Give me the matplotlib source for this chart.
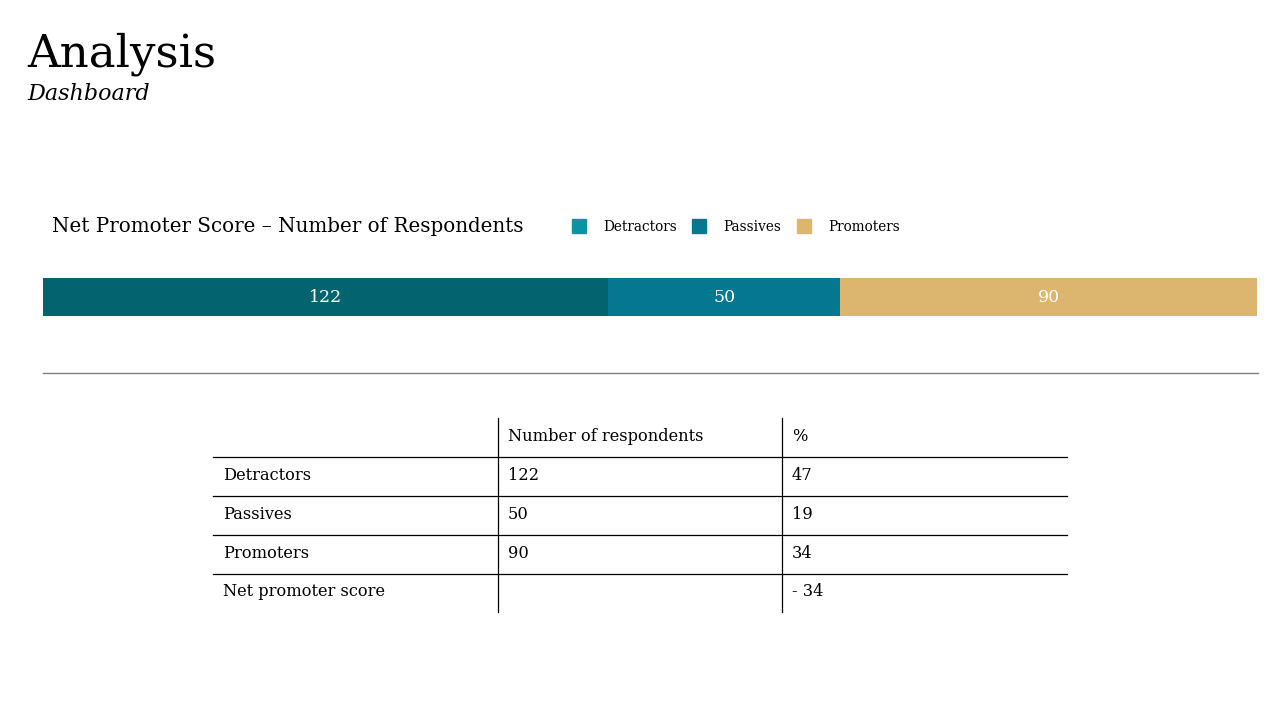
import matplotlib.pyplot as plt

plt.rcParams['font.family'] = ['DejaVu Serif']

segments = ['Detractors', 'Passives', 'Promoters']
counts = [122, 50, 90]
bar_colors = ['#03646f', '#067791', '#dcb56e']
legend_colors = ['#0993a3', '#077790', '#dcb66f']

row_labels = ['Detractors', 'Passives', 'Promoters', 'Net promoter score']
col_labels = ['', 'Number of respondents', '%']
resp_col = ['122', '50', '90', '']
pct_col = ['47', '19', '34', '- 34']

W, H = 1280, 720
fig = plt.figure(figsize=(12.8, 7.2), dpi=100)
bg = fig.add_axes([0, 0, 1, 1])
bg.set_xlim(0, W)
bg.set_ylim(H, 0)
bg.axis('off')

# headings
bg.text(27, 66, 'Analysis', fontsize=32.5, va='baseline', ha='left')
bg.text(27, 100, 'Dashboard', fontsize=16, style='italic', va='baseline', ha='left')
bg.text(52, 226, 'Net Promoter Score \u2013 Number of Respondents', fontsize=14.3,
        va='center', ha='left')

# legend
lx = [572, 692, 797]
for x, name, c in zip(lx, segments, legend_colors):
    bg.add_patch(plt.Rectangle((x, 219), 14, 14, color=c))
    bg.text(x + 31, 227, name, fontsize=9.8, va='center', ha='left')

# stacked bar
ax = fig.add_axes([43 / W, 1 - 316 / H, (1257 - 43) / W, 38 / H])
left = 0
for v, c in zip(counts, bar_colors):
    ax.barh(0, v, left=left, color=c, height=1)
    ax.text(left + v / 2, 0, str(v), color='white', fontsize=12.5,
            ha='center', va='center')
    left += v
ax.set_xlim(0, sum(counts))
ax.set_ylim(-0.5, 0.5)
ax.axis('off')

# separator
bg.plot([43, 1258], [373, 373], color='#7f7f7f', lw=1)

# table
cols_x = [213, 498, 782, 1067]
rows_y = [418, 457, 496, 535, 574, 612]
for y in rows_y[1:-1]:
    bg.plot([cols_x[0], cols_x[-1]], [y, y], color='black', lw=0.9)
for x in cols_x[1:3]:
    bg.plot([x, x], [rows_y[0], rows_y[-1]], color='black', lw=0.9)

table = [col_labels] + [[r, a, b] for r, a, b in zip(row_labels, resp_col, pct_col)]
for i, row in enumerate(table):
    yc = (rows_y[i] + rows_y[i + 1]) / 2
    for j, cell in enumerate(row):
        bg.text(cols_x[j] + 10, yc - 1, cell, fontsize=11.7, va='center', ha='left')

fig.savefig('out.png', dpi=100)
